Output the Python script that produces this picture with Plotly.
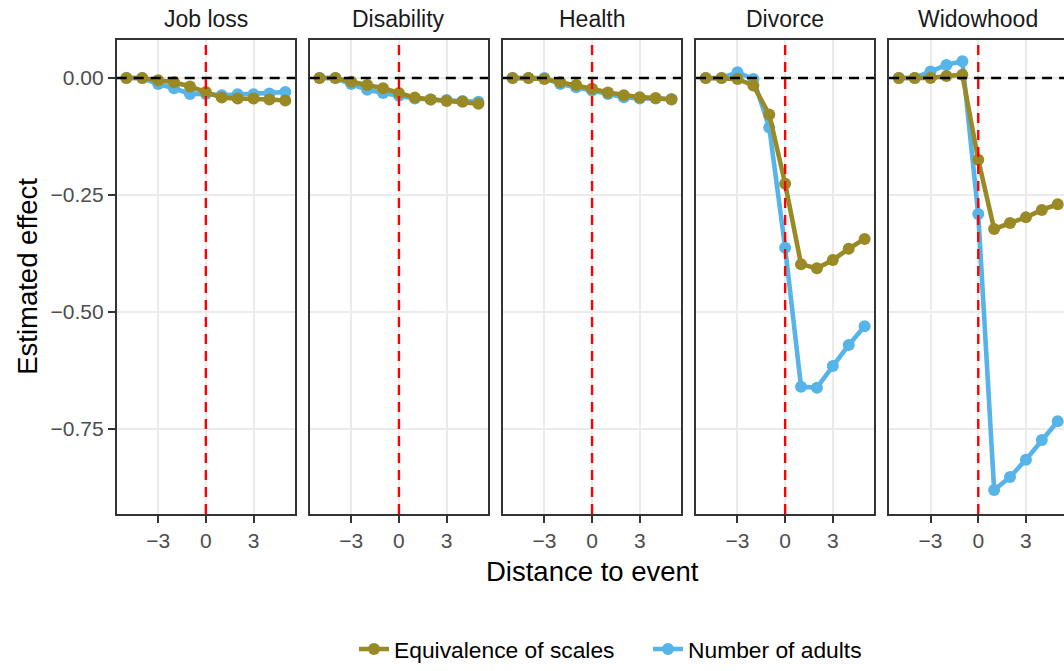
import plotly.graph_objects as go

# ---------------- data ----------------
events = ["Job loss", "Disability", "Health", "Divorce", "Widowhood"]
distance = [-5, -4, -3, -2, -1, 0, 1, 2, 3, 4, 5]
series_names = ["Equivalence of scales", "Number of adults"]

equiv_scales = {
    "Job loss":   [0.000, 0.000, -0.005, -0.009, -0.018, -0.030, -0.042, -0.044, -0.044, -0.046, -0.048],
    "Disability": [0.000, 0.000, -0.008, -0.015, -0.022, -0.032, -0.042, -0.046, -0.049, -0.051, -0.055],
    "Health":     [0.000, 0.000, -0.002, -0.009, -0.015, -0.023, -0.031, -0.037, -0.041, -0.043, -0.046],
    "Divorce":    [0.000, 0.000, -0.002, -0.016, -0.078, -0.226, -0.398, -0.407, -0.389, -0.365, -0.344],
    "Widowhood":  [0.000, 0.000, 0.000, 0.004, 0.007, -0.175, -0.323, -0.310, -0.298, -0.282, -0.270],
}
num_adults = {
    "Job loss":   [0.000, 0.000, -0.013, -0.022, -0.034, -0.034, -0.037, -0.035, -0.035, -0.033, -0.030],
    "Disability": [0.000, 0.000, -0.013, -0.025, -0.032, -0.038, -0.044, -0.046, -0.047, -0.049, -0.051],
    "Health":     [0.000, 0.000, 0.000, -0.013, -0.020, -0.027, -0.034, -0.041, -0.044, -0.044, -0.045],
    "Divorce":    [0.000, 0.000, 0.012, -0.002, -0.106, -0.363, -0.660, -0.662, -0.616, -0.571, -0.531],
    "Widowhood":  [0.000, 0.000, 0.014, 0.028, 0.036, -0.291, -0.881, -0.853, -0.816, -0.774, -0.734],
}
x_ticks = [-3, 0, 3]
x_ticktext = ["\u22123", "0", "3"]
y_ticks = [0.0, -0.25, -0.5, -0.75]
y_ticktext = ["0.00", "\u22120.25", "\u22120.50", "\u22120.75"]

# ---------------- styling ----------------
W, H = 1064, 671
COL_EQ = "#9A8A26"
COL_NA = "#56B4E9"
FONT = "Liberation Sans, Arial, Helvetica, sans-serif"
BORDER = "#333333"
GRID = "#EBEBEB"

panel_left0 = 116.7
panel_step = 193.1
panel_w = 178.3
x_lo, x_hi = -5.61, 5.61
px_per_unit = panel_w / (x_hi - x_lo)
plot_top, plot_bot = 40.7, 521.7
y_range = [-0.932, 0.081]
ydom = [1 - plot_bot / H, 1 - plot_top / H]

fig = go.Figure()
layout = dict(
    width=W, height=H,
    margin=dict(l=0, r=0, t=0, b=0),
    paper_bgcolor="white", plot_bgcolor="white",
    font=dict(family=FONT, size=21, color="#4D4D4D"),
    showlegend=True,
    legend=dict(orientation="h", x=354 / W, xanchor="left", y=(H - 659) / H, yanchor="middle",
                font=dict(size=22.8, color="black"), traceorder="normal",
                itemwidth=30, tracegroupgap=0, entrywidth=249, entrywidthmode="pixels"),
)
annotations = []
shapes = []

for i, ev in enumerate(events):
    left = panel_left0 + i * panel_step
    right = left + panel_w
    hi = x_hi
    if right > W:
        hi = x_lo + (W - left) / px_per_unit
        right = W
    xr = "x" if i == 0 else f"x{i+1}"
    yr = "y" if i == 0 else f"y{i+1}"
    xa = "xaxis" if i == 0 else f"xaxis{i+1}"
    ya = "yaxis" if i == 0 else f"yaxis{i+1}"
    last = (i == len(events) - 1)
    layout[xa] = dict(domain=[left / W, right / W], range=[x_lo, hi], anchor=yr,
                      tickvals=x_ticks, ticktext=x_ticktext,
                      showgrid=True, gridcolor=GRID, gridwidth=1.8, zeroline=False,
                      showline=True, linecolor=BORDER, linewidth=1.6, mirror=True,
                      ticks="outside", ticklen=7, tickwidth=1.6, tickcolor=BORDER,
                      tickfont=dict(size=21, color="#4D4D4D"), fixedrange=True)
    layout[ya] = dict(domain=ydom, range=y_range, anchor=xr,
                      tickvals=y_ticks, ticktext=y_ticktext,
                      showticklabels=(i == 0), ticks="outside" if i == 0 else "",
                      ticklen=7, tickwidth=1.6, tickcolor=BORDER,
                      showgrid=True, gridcolor=GRID, gridwidth=1.8, zeroline=False,
                      showline=True, linecolor=BORDER, linewidth=1.6, mirror=not last,
                      tickfont=dict(size=21, color="#4D4D4D"), fixedrange=True)
    if i > 0:
        layout[ya]["matches"] = "y"

    fig.add_trace(go.Scatter(x=distance, y=num_adults[ev], mode="lines+markers",
                             name=series_names[1], legendgroup="na", legendrank=2,
                             showlegend=(i == 0), xaxis=xr, yaxis=yr,
                             line=dict(color=COL_NA, width=4.6),
                             marker=dict(color=COL_NA, size=12)))
    fig.add_trace(go.Scatter(x=distance, y=equiv_scales[ev], mode="lines+markers",
                             name=series_names[0], legendgroup="eq", legendrank=1,
                             showlegend=(i == 0), xaxis=xr, yaxis=yr,
                             line=dict(color=COL_EQ, width=4.6),
                             marker=dict(color=COL_EQ, size=12)))

    shapes.append(dict(type="line", xref=f"{xr} domain", yref=yr, x0=0, x1=1, y0=0, y1=0,
                       line=dict(color="black", width=2.4, dash="10px,7px"), layer="above"))
    shapes.append(dict(type="line", xref=xr, yref=f"{yr} domain", x0=0, x1=0, y0=0, y1=1,
                       line=dict(color="#FF0000", width=2.4, dash="10px,7px"), layer="above"))

    annotations.append(dict(text=ev, x=(left + panel_w / 2) / W, y=1 - 19 / H,
                            xref="paper", yref="paper", showarrow=False,
                            xanchor="center", yanchor="middle",
                            font=dict(size=23, color="#1A1A1A")))

annotations.append(dict(text="Distance to event", x=592 / W, y=1 - 580 / H, xref="paper", yref="paper",
                        showarrow=False, xanchor="center", yanchor="middle",
                        font=dict(size=27.5, color="black")))
annotations.append(dict(text="Estimated effect", x=28 / W, y=1 - 281 / H, xref="paper", yref="paper",
                        showarrow=False, xanchor="center", yanchor="middle", textangle=-90,
                        font=dict(size=27.5, color="black")))

layout["annotations"] = annotations
layout["shapes"] = shapes
fig.update_layout(**layout)
fig.write_html("out.html", config={"displayModeBar": False},
               post_script="var d=document.documentElement,b=document.body;"
                           "d.style.margin='0';d.style.padding='0';d.style.overflow='hidden';"
                           "b.style.margin='0';b.style.padding='0';b.style.overflow='hidden';")
